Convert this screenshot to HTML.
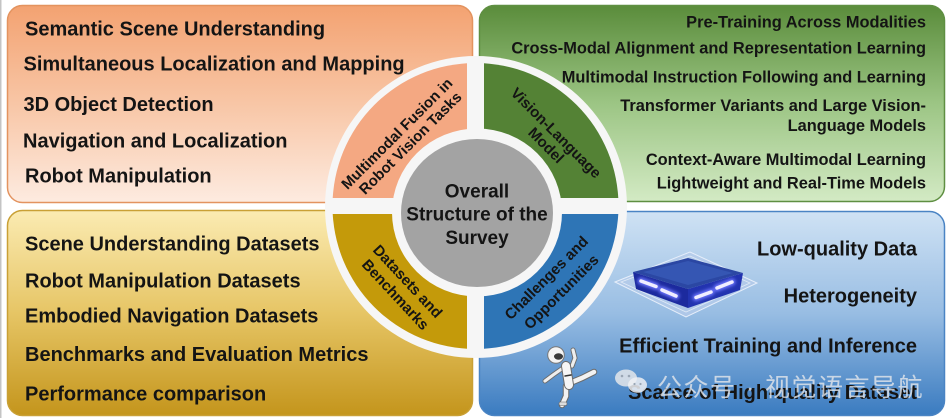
<!DOCTYPE html>
<html><head><meta charset="utf-8">
<style>
html,body{margin:0;padding:0;background:#fff;}
svg{display:block;}
text{font-family:"Liberation Sans",Arial,sans-serif;font-weight:bold;fill:#141414;}
.cjk{font-family:"Liberation Sans","Noto Sans CJK SC","WenQuanYi Zen Hei",sans-serif;font-weight:normal;}
</style></head><body>
<svg width="948" height="418" viewBox="0 0 948 418" xmlns="http://www.w3.org/2000/svg">
<defs>
<linearGradient id="gTL" x1="0" y1="0" x2="0" y2="1">
<stop offset="0" stop-color="#f3a271"/><stop offset="0.5" stop-color="#f8c6a6"/><stop offset="1" stop-color="#fdebe0"/>
</linearGradient>
<linearGradient id="gTR" x1="0" y1="0" x2="0" y2="1">
<stop offset="0" stop-color="#5a8c3b"/><stop offset="0.5" stop-color="#9cc584"/><stop offset="1" stop-color="#d3eac4"/>
</linearGradient>
<linearGradient id="gBL" x1="0" y1="0" x2="0" y2="1">
<stop offset="0" stop-color="#fbebb2"/><stop offset="0.5" stop-color="#e6c565"/><stop offset="1" stop-color="#c4951c"/>
</linearGradient>
<linearGradient id="gBR" x1="0" y1="0" x2="0" y2="1">
<stop offset="0" stop-color="#cfe2f4"/><stop offset="0.5" stop-color="#98bde3"/><stop offset="1" stop-color="#3a7bc0"/>
</linearGradient>
<clipPath id="cTL"><rect x="0" y="0" width="467" height="198"/></clipPath>
<clipPath id="cTR"><rect x="484" y="0" width="300" height="198"/></clipPath>
<clipPath id="cBL"><rect x="0" y="214" width="467" height="300"/></clipPath>
<clipPath id="cBR"><rect x="484" y="214" width="300" height="300"/></clipPath>
<filter id="glow" x="-50%" y="-50%" width="200%" height="200%"><feGaussianBlur stdDeviation="1.5"/></filter>
</defs>

<rect width="948" height="418" fill="#ffffff"/>
<rect x="0" y="0" width="1.5" height="418" fill="#c4c4c4"/>

<!-- boxes -->
<rect x="7.5" y="5.5" width="465" height="197" rx="15" fill="url(#gTL)" stroke="#e3935f" stroke-width="1.5"/>
<rect x="479.5" y="5.5" width="465" height="196" rx="15" fill="url(#gTR)" stroke="#5f8f42" stroke-width="1.5"/>
<rect x="7.5" y="210.5" width="465" height="205" rx="15" fill="url(#gBL)" stroke="#c9a035" stroke-width="1.5"/>
<rect x="479.5" y="211.5" width="465" height="204" rx="15" fill="url(#gBR)" stroke="#4a84c4" stroke-width="1.5"/>

<!-- TL texts -->
<text x="25" y="35.7" font-size="20">Semantic Scene Understanding</text>
<text x="23.5" y="70.7" font-size="20">Simultaneous Localization and Mapping</text>
<text x="23.5" y="111" font-size="20">3D Object Detection</text>
<text x="23" y="147.3" font-size="20">Navigation and Localization</text>
<text x="25" y="182.7" font-size="20">Robot Manipulation</text>

<!-- TR texts -->
<g font-size="16.4" text-anchor="end">
<text x="926" y="27.3">Pre-Training Across Modalities</text>
<text x="926" y="53.3">Cross-Modal Alignment and Representation Learning</text>
<text x="926" y="82.3">Multimodal Instruction Following and Learning</text>
<text x="926" y="111">Transformer Variants and Large Vision-</text>
<text x="926" y="131">Language Models</text>
<text x="926" y="165">Context-Aware Multimodal Learning</text>
<text x="926" y="188.3">Lightweight and Real-Time Models</text>
</g>

<!-- BL texts -->
<text x="25" y="250.7" font-size="20">Scene Understanding Datasets</text>
<text x="25" y="287.3" font-size="20">Robot Manipulation Datasets</text>
<text x="25" y="322.3" font-size="20">Embodied Navigation Datasets</text>
<text x="25" y="361" font-size="20">Benchmarks and Evaluation Metrics</text>
<text x="25" y="400.7" font-size="20">Performance comparison</text>

<!-- BR texts -->
<g font-size="20" text-anchor="end">
<text x="917" y="255.7">Low-quality Data</text>
<text x="917" y="302.3">Heterogeneity</text>
<text x="917" y="352.3">Efficient Training and Inference</text>
<text x="917" y="399">Scarce of High-quality Dataset</text>
</g>

<!-- chip -->
<g>
<polygon points="615,282 690,252 757,283 686,317" fill="#b5cbea" fill-opacity="0.75" stroke="#e6eefa" stroke-width="1"/>
<polygon points="621,282 690,256 750,283 686,312" fill="none" stroke="#ffffff" stroke-opacity="0.6" stroke-width="0.8"/>
<polygon points="633,272 688,289 688,308 636,289" fill="#1c2a9e"/>
<polygon points="688,289 743,273 740,290 688,308" fill="#2233b0"/>
<polygon points="633,272 688,258 743,273 688,289" fill="#2b47a3"/>
<polygon points="643,272 688,261 733,273 688,285" fill="#3556b3"/>
<g stroke="#6f78ff" stroke-width="7" stroke-linecap="round" filter="url(#glow)">
<line x1="641" y1="281" x2="656" y2="286.5"/>
<line x1="662" y1="290" x2="676" y2="296"/>
<line x1="696" y1="297.5" x2="711" y2="292"/>
<line x1="717" y1="288" x2="732" y2="282"/>
</g>
<g stroke="#f0eeff" stroke-width="3.5" stroke-linecap="round">
<line x1="641" y1="281" x2="656" y2="286.5"/>
<line x1="662" y1="290" x2="676" y2="296"/>
<line x1="696" y1="297.5" x2="711" y2="292"/>
<line x1="717" y1="288" x2="732" y2="282"/>
</g>
</g>

<!-- robot -->
<g stroke-linecap="round" fill="none">
<path d="M570,383 L582,378 L594,372" stroke="#6b6b6b" stroke-width="6.5"/>
<path d="M570,383 L582,378 L594,372" stroke="#f2f2f2" stroke-width="4.5"/>
<path d="M566,386 L566,396 L562,405" stroke="#6b6b6b" stroke-width="6.5"/>
<path d="M566,386 L566,396 L562,405" stroke="#f2f2f2" stroke-width="4.5"/>
<path d="M563,368 L553,375 L545,381" stroke="#6b6b6b" stroke-width="5"/>
<path d="M563,368 L553,375 L545,381" stroke="#eeeeee" stroke-width="3.2"/>
<path d="M572,366 L575,358 L573,350" stroke="#6b6b6b" stroke-width="5"/>
<path d="M572,366 L575,358 L573,350" stroke="#eeeeee" stroke-width="3.2"/>
<path d="M566,366 L569,385" stroke="#6b6b6b" stroke-width="10"/>
<path d="M566,366 L569,385" stroke="#f5f5f5" stroke-width="8"/>
<line x1="565" y1="376" x2="571" y2="375" stroke="#333" stroke-width="1.5"/>
</g>
<circle cx="556" cy="355" r="8.3" fill="#f4f4f4" stroke="#777" stroke-width="1"/>
<ellipse cx="558.5" cy="356.5" rx="4.5" ry="3.2" fill="#3a3a3a"/>
<rect x="559" y="402" width="8" height="3.5" rx="1.5" fill="#ddd" stroke="#666" stroke-width="0.6"/>

<!-- watermark -->
<g fill="#e4e6ea" fill-opacity="0.85">
<ellipse cx="626" cy="378" rx="11" ry="8.5"/>
<ellipse cx="637.5" cy="385" rx="9.5" ry="7.8" fill="#eef0f3"/>
</g>
<g fill="#9aa6b4">
<circle cx="622" cy="376" r="1.3"/><circle cx="629" cy="376" r="1.3"/>
<circle cx="634.5" cy="384" r="1.1"/><circle cx="640.5" cy="384" r="1.1"/>
</g>
<g class="cjk" font-size="25" style="fill:#e2e5ea;fill-opacity:0.82">
<text class="cjk" x="657" y="396" letter-spacing="1.5" style="fill:#e2e5ea;fill-opacity:0.82">公众号</text>
<text class="cjk" x="750" y="396" text-anchor="middle" style="fill:#e2e5ea;fill-opacity:0.82">·</text>
<text class="cjk" x="765" y="396" letter-spacing="1.5" style="fill:#e2e5ea;fill-opacity:0.82">视觉语言导航</text>
</g>

<!-- central ring -->
<circle cx="476" cy="207" r="151" fill="#f6f6f6"/>
<circle cx="475.5" cy="206" r="143" fill="#f4a882" clip-path="url(#cTL)"/>
<circle cx="475.5" cy="206" r="143" fill="#548235" clip-path="url(#cTR)"/>
<circle cx="475.5" cy="206" r="143" fill="#c49a0a" clip-path="url(#cBL)"/>
<circle cx="475.5" cy="206" r="143" fill="#2e75b6" clip-path="url(#cBR)"/>
<ellipse cx="477" cy="212.5" rx="85" ry="84" fill="#f6f6f6"/>
<ellipse cx="477" cy="213" rx="76" ry="74" fill="#a3a3a3"/>

<g font-size="19" text-anchor="middle">
<text x="477" y="197.7">Overall</text>
<text x="477" y="220.7">Structure of the</text>
<text x="477" y="244">Survey</text>
</g>

<!-- segment labels -->
<g font-size="15" text-anchor="middle" dominant-baseline="central">
<text transform="translate(397.3,134) rotate(-45)">Multimodal Fusion in</text>
<text transform="translate(410.7,143.5) rotate(-45)">Robot Vision Tasks</text>
<text transform="translate(555.7,133.3) rotate(45)">Vision-Language</text>
<text transform="translate(545.7,145.7) rotate(45)">Model</text>
<text transform="translate(407.3,281.7) rotate(47)">Datasets and</text>
<text transform="translate(395,295) rotate(47)">Benchmarks</text>
<text transform="translate(546.7,278.3) rotate(-45)">Challenges and</text>
<text transform="translate(561.7,292.3) rotate(-45)">Opportunities</text>
</g>
</svg>
</body></html>
